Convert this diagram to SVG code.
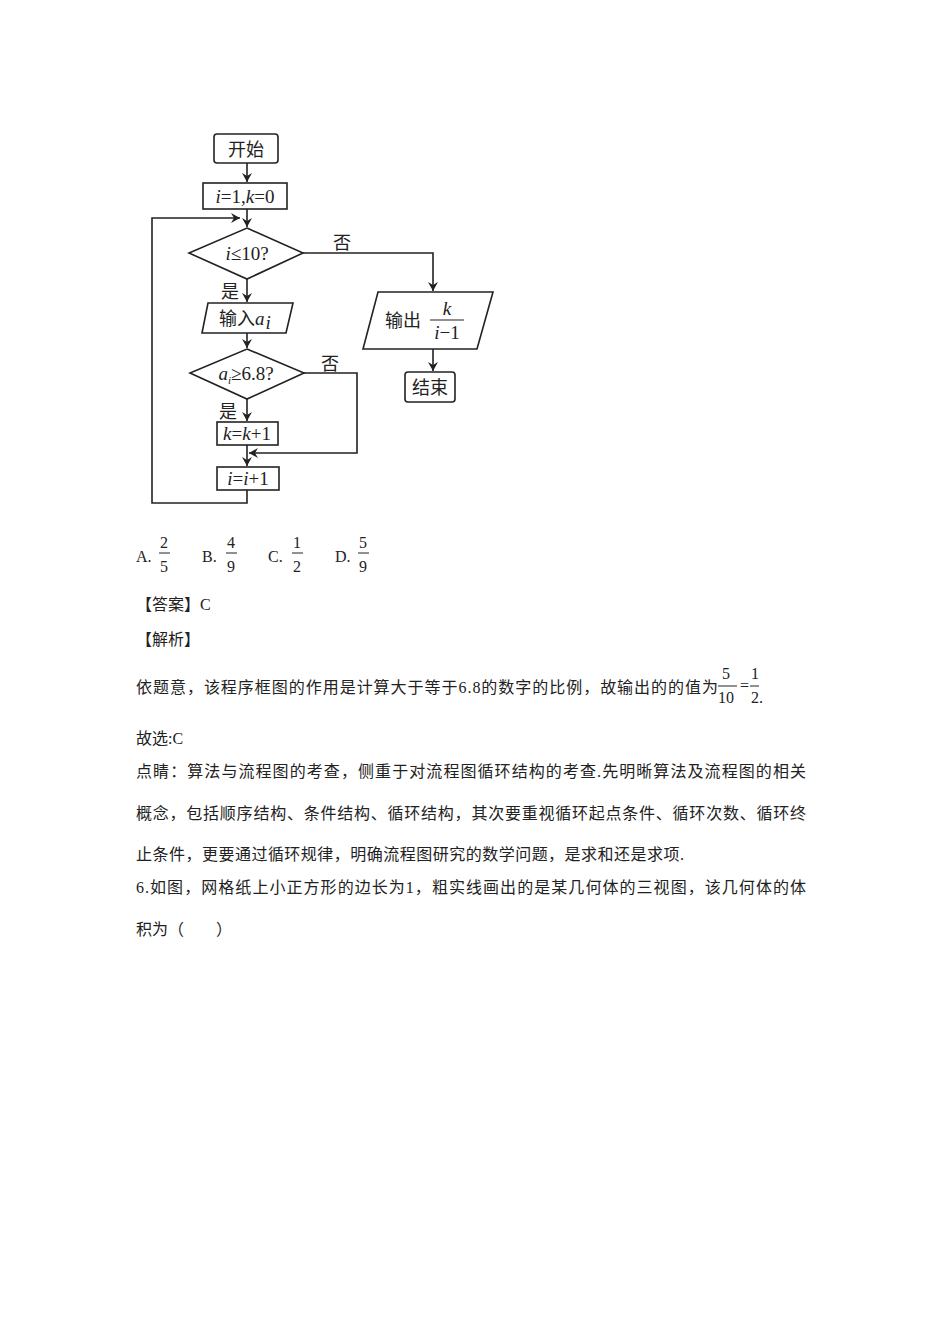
<svg xmlns="http://www.w3.org/2000/svg" width="950" height="1344" viewBox="0 0 950 1344">
<defs>
<marker id="ah" markerWidth="10" markerHeight="10" refX="9" refY="5" orient="auto" markerUnits="userSpaceOnUse"><path d="M0,0 L9,5 L0,10 L3,5 Z" fill="#222"/></marker>
<style>
.s{fill:#fff;stroke:#222;stroke-width:1.6}
.c{fill:none;stroke:#222;stroke-width:1.6}
.t{font-family:"Noto Sans CJK SC",sans-serif;font-size:18px;fill:#222}
.m{font-family:"Liberation Serif",serif;font-size:19px;fill:#222;font-style:italic}
.b{font-family:"Liberation Serif","Noto Sans CJK SC",serif;font-size:19px;fill:#222}
.p{font-family:"Liberation Serif","Noto Sans CJK SC",serif;font-size:16px;fill:#222}
</style>
</defs>
<rect width="950" height="1344" fill="#fff"/>
<g id="connectors">
<path class="c" d="M247,163 V182" marker-end="url(#ah)"/>
<path class="c" d="M247,209 V227" marker-end="url(#ah)"/>
<path class="c" d="M303,253 H433 V291" marker-end="url(#ah)"/>
<path class="c" d="M247,279 V302" marker-end="url(#ah)"/>
<path class="c" d="M247,333 V348" marker-end="url(#ah)"/>
<path class="c" d="M247,399 V421" marker-end="url(#ah)"/>
<path class="c" d="M304,373 H357 V453 H249" marker-end="url(#ah)"/>
<path class="c" d="M247,445 V466" marker-end="url(#ah)"/>
<path class="c" d="M247,490 V503 H152 V218 H240" marker-end="url(#ah)"/>
<path class="c" d="M433,349 V371" marker-end="url(#ah)"/>
<text class="t" x="333" y="249">否</text>
<text class="t" x="321" y="370">否</text>
<text class="t" x="221" y="298">是</text>
<text class="t" x="219" y="418">是</text>
</g>
<g id="start"><rect class="s" x="214" y="134" width="64" height="29" rx="3"/><text class="t" x="246" y="156" text-anchor="middle">开始</text></g>
<g id="init"><rect class="s" x="203" y="183" width="84" height="26"/><text x="245" y="203" text-anchor="middle" class="b"><tspan font-style="italic">i</tspan>=1,<tspan font-style="italic">k</tspan>=0</text></g>
<g id="cond1"><polygon class="s" points="247,228 303,253 247,279 189,253"/><text x="247" y="260" text-anchor="middle" class="b"><tspan font-style="italic">i</tspan>≤10?</text></g>
<g id="input"><polygon class="s" points="208,303 293,303 286,333 202,333"/><text x="219" y="325" class="t">输入<tspan class="m" font-size="20">a</tspan><tspan class="m" font-size="11" dy="4" dx="1">i</tspan></text></g>
<g id="cond2"><polygon class="s" points="247,349 304,373 247,399 190,373"/><text x="246" y="380" text-anchor="middle" class="b"><tspan font-style="italic">a</tspan><tspan font-style="italic" font-size="11" dy="4">i</tspan><tspan dy="-4">≥6.8?</tspan></text></g>
<g id="kinc"><rect class="s" x="217" y="422" width="61" height="23"/><text x="247" y="440" text-anchor="middle" class="b"><tspan font-style="italic">k</tspan>=<tspan font-style="italic">k</tspan>+1</text></g>
<g id="iinc"><rect class="s" x="217" y="467" width="62" height="23"/><text x="248" y="485" text-anchor="middle" class="b"><tspan font-style="italic">i</tspan>=<tspan font-style="italic">i</tspan>+1</text></g>
<g id="output"><polygon class="s" points="378,292 493,292 477,349 363,349"/><text x="385" y="327" class="t">输出</text><text x="447" y="315" class="m" text-anchor="middle">k</text><line x1="430" y1="320" x2="464" y2="320" stroke="#222" stroke-width="1.2"/><text x="447" y="339" class="b" text-anchor="middle"><tspan font-style="italic">i</tspan>−1</text></g>
<g id="end"><rect class="s" x="405" y="372" width="50" height="30" rx="3"/><text class="t" x="430" y="394" text-anchor="middle">结束</text></g>
<g id="body">
<text class="p" x="136" y="562">A.</text><text class="p" x="160" y="548">2</text><line x1="159" y1="553" x2="170" y2="553" stroke="#222"/><text class="p" x="160" y="572">5</text>
<text class="p" x="202" y="562">B.</text><text class="p" x="227" y="548">4</text><line x1="226" y1="553" x2="237" y2="553" stroke="#222"/><text class="p" x="227" y="572">9</text>
<text class="p" x="268" y="562">C.</text><text class="p" x="293" y="548">1</text><line x1="292" y1="553" x2="303" y2="553" stroke="#222"/><text class="p" x="293" y="572">2</text>
<text class="p" x="335" y="562">D.</text><text class="p" x="359" y="548">5</text><line x1="358" y1="553" x2="369" y2="553" stroke="#222"/><text class="p" x="359" y="572">9</text>
<text class="p" x="136" y="610">【答案】C</text>
<text class="p" x="136" y="645">【解析】</text>
<text class="p" x="136" y="693" textLength="582">依题意，该程序框图的作用是计算大于等于6.8的数字的比例，故输出的的值为</text>
<text class="p" x="722" y="679">5</text><line x1="718" y1="686" x2="737" y2="686" stroke="#222"/><text class="p" x="718" y="703">10</text>
<text class="p" x="740" y="691" font-size="11">=</text>
<text class="p" x="751" y="679">1</text><line x1="750" y1="686" x2="759" y2="686" stroke="#222"/><text class="p" x="751" y="703">2.</text>
<text class="p" x="136" y="744">故选:C</text>
<text class="p" x="136" y="777" textLength="670">点睛：算法与流程图的考查，侧重于对流程图循环结构的考查.先明晰算法及流程图的相关</text>
<text class="p" x="136" y="819" textLength="670">概念，包括顺序结构、条件结构、循环结构，其次要重视循环起点条件、循环次数、循环终</text>
<text class="p" x="136" y="860" textLength="548">止条件，更要通过循环规律，明确流程图研究的数学问题，是求和还是求项.</text>
<text class="p" x="136" y="893" textLength="670">6.如图，网格纸上小正方形的边长为1，粗实线画出的是某几何体的三视图，该几何体的体</text>
<text class="p" x="136" y="935">积为（　　）</text>
</g>
</svg>
